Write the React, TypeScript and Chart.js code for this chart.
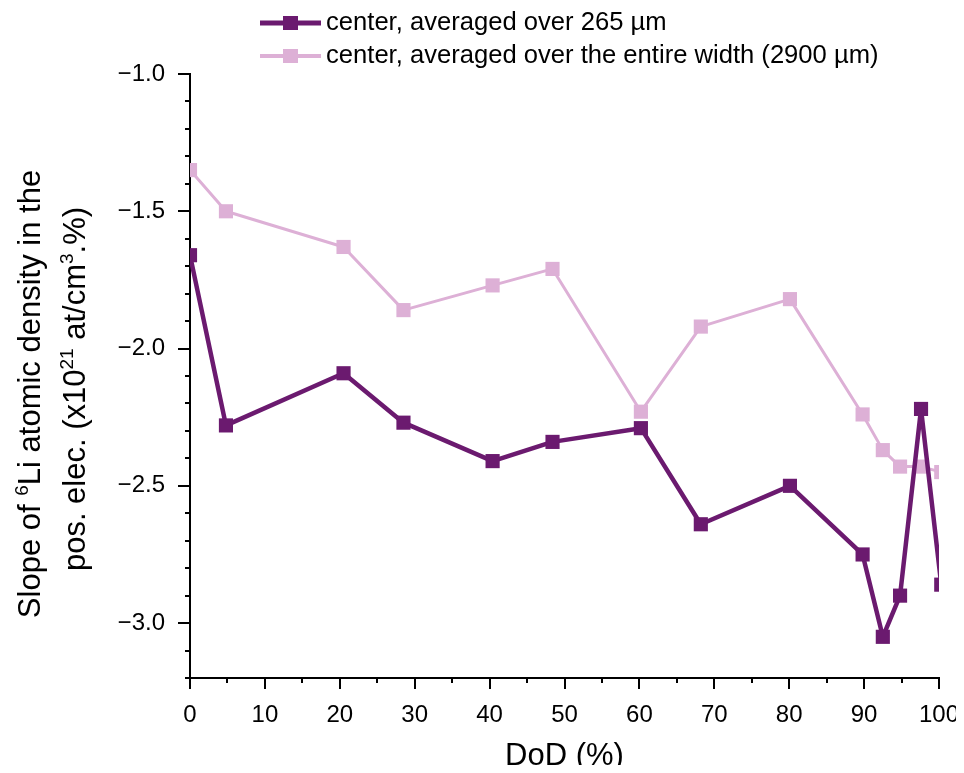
import React, { useEffect, useRef } from 'react';
import { Chart, registerables } from 'chart.js';

Chart.register(...registerables);

// ---- data ----
const dod = [0, 4.8, 20.5, 28.5, 40.4, 48.4, 60.2, 68.2, 80.1, 89.8, 92.5, 94.8, 97.6, 100.3];
const slope265 = [-1.66, -2.28, -2.09, -2.27, -2.41, -2.34, -2.29, -2.64, -2.5, -2.75, -3.05, -2.9, -2.22, -2.86];
const slopeFullWidth = [-1.35, -1.5, -1.63, -1.86, -1.77, -1.71, -2.23, -1.92, -1.82, -2.24, -2.37, -2.43, -2.43, -2.45];
const seriesLabels = ['center, averaged over 265 µm', 'center, averaged over the entire width (2900 µm)'];
const xTitle = 'DoD (%)';
const yTitleLine1 = [
  { t: 'Slope of ', sup: false },
  { t: '6', sup: true },
  { t: 'Li atomic density in the', sup: false },
];
const yTitleLine2 = [
  { t: 'pos. elec. (x10', sup: false },
  { t: '21', sup: true },
  { t: ' at/cm', sup: false },
  { t: '3', sup: true },
  { t: '.%)', sup: false },
];

const DARK = '#6b1a6f';
const LIGHT = '#ddb0d6';
const FONT = '"Liberation Sans", Arial, sans-serif';

const isMult = (v: number, step: number) => Math.abs(v / step - Math.round(v / step)) < 1e-6;

function drawRich(ctx: CanvasRenderingContext2D, segs: { t: string; sup: boolean }[], cx: number, baseline: number, size: number) {
  const supSize = Math.round(size * 0.62);
  const widths = segs.map((s) => {
    ctx.font = `${s.sup ? supSize : size}px ${FONT}`;
    return ctx.measureText(s.t).width;
  });
  const total = widths.reduce((a, b) => a + b, 0);
  let x = cx - total / 2;
  segs.forEach((s, i) => {
    ctx.font = `${s.sup ? supSize : size}px ${FONT}`;
    ctx.fillText(s.t, x, s.sup ? baseline - size * 0.4 : baseline);
    x += widths[i];
  });
}

const decorPlugin = {
  id: 'decor',
  afterDraw(chart: any) {
    const ctx: CanvasRenderingContext2D = chart.ctx;
    const area = chart.chartArea;
    const xs = chart.scales.x;
    const ys = chart.scales.y;
    ctx.save();
    // tick marks (major / minor)
    ctx.strokeStyle = '#000';
    ctx.lineWidth = 2;
    ctx.beginPath();
    xs.ticks.forEach((t: any) => {
      const px = Math.round(xs.getPixelForValue(t.value));
      const len = isMult(t.value, 10) ? 11 : 5;
      ctx.moveTo(px, area.bottom);
      ctx.lineTo(px, area.bottom + len);
    });
    ys.ticks.forEach((t: any) => {
      const py = Math.round(ys.getPixelForValue(t.value));
      const len = isMult(t.value, 0.5) ? 12 : 5;
      ctx.moveTo(area.left, py);
      ctx.lineTo(area.left - len, py);
    });
    ctx.stroke();

    // axis titles
    ctx.fillStyle = '#000';
    ctx.textAlign = 'center';
    ctx.textBaseline = 'middle';
    ctx.font = `31px ${FONT}`;
    ctx.fillText(xTitle, (area.left + area.right) / 2, 748);

    ctx.save();
    ctx.textAlign = 'left';
    ctx.textBaseline = 'alphabetic';
    ctx.rotate(-Math.PI / 2);
    // after rotation: local x = -globalY, local y = globalX
    drawRich(ctx, yTitleLine1, -386, 32, 31);
    drawRich(ctx, yTitleLine2, -381, 77, 31);
    ctx.restore();

    // legend
    const rows = [15, 48];
    chart.data.datasets.forEach((ds: any, i: number) => {
      const y = rows[i];
      ctx.strokeStyle = ds.borderColor;
      ctx.lineWidth = i === 0 ? 5 : 4;
      ctx.beginPath();
      ctx.moveTo(252, y);
      ctx.lineTo(313, y);
      ctx.stroke();
      ctx.fillStyle = ds.borderColor;
      ctx.fillRect(282.5 - 7.5, y - 7, 15, 14);
      ctx.fillStyle = '#000';
      ctx.font = `25.6px ${FONT}`;
      ctx.textAlign = 'left';
      ctx.textBaseline = 'middle';
      ctx.fillText(ds.label, 318, y);
    });
    ctx.restore();
  },
};

export default function App() {
  const ref = useRef<HTMLCanvasElement | null>(null);
  useEffect(() => {
    if (!ref.current) return;
    const chart = new Chart(ref.current, {
      type: 'line',
      data: {
        datasets: [
          {
            label: seriesLabels[0],
            data: dod.map((x, i) => ({ x, y: slope265[i] })),
            borderColor: DARK,
            backgroundColor: DARK,
            borderWidth: 4.5,
            borderJoinStyle: 'round',
            pointStyle: 'rect',
            pointRadius: 10,
            pointBorderWidth: 0,
            pointBackgroundColor: DARK,
            clip: 0,
          },
          {
            label: seriesLabels[1],
            data: dod.map((x, i) => ({ x, y: slopeFullWidth[i] })),
            borderColor: LIGHT,
            backgroundColor: LIGHT,
            borderWidth: 3,
            borderJoinStyle: 'round',
            pointStyle: 'rect',
            pointRadius: 10,
            pointBorderWidth: 0,
            pointBackgroundColor: LIGHT,
            clip: 0,
          },
        ],
      },
      options: {
        responsive: false,
        animation: false,
        layout: { padding: { top: 66, right: 17, left: 0, bottom: 0 } },
        plugins: { legend: { display: false }, tooltip: { enabled: false }, title: { display: false } },
        scales: {
          x: {
            type: 'linear',
            min: 0,
            max: 100,
            grid: { display: false },
            border: { display: true, color: '#000', width: 2 },
            ticks: {
              stepSize: 5,
              autoSkip: false,
              maxRotation: 0,
              padding: 15,
              color: '#000',
              font: { family: FONT, size: 24, lineHeight: 1.2 },
              callback: (v: any) => (isMult(Number(v), 10) ? String(Math.round(Number(v))) : ''),
            },
            afterFit: (s: any) => {
              s.height = 87;
              s.paddingLeft = 0;
              s.paddingRight = 0;
            },
          },
          y: {
            type: 'linear',
            min: -3.2,
            max: -1.0,
            grid: { display: false },
            border: { display: true, color: '#000', width: 2 },
            ticks: {
              stepSize: 0.1,
              autoSkip: false,
              padding: 17,
              color: '#000',
              font: { family: FONT, size: 24 },
              callback: (v: any) => (isMult(Number(v), 0.5) ? Number(v).toFixed(1).replace('-', '\u2212') : ''),
            },
            afterFit: (s: any) => {
              s.width = 182;
              s.paddingTop = 0;
              s.paddingBottom = 0;
            },
          },
        },
      },
      plugins: [decorPlugin],
    });
    return () => chart.destroy();
  }, []);
  return (
    <div style={{ width: 948, height: 757 }}>
      <canvas ref={ref} width={948} height={757} style={{ display: 'block' }} />
    </div>
  );
}
